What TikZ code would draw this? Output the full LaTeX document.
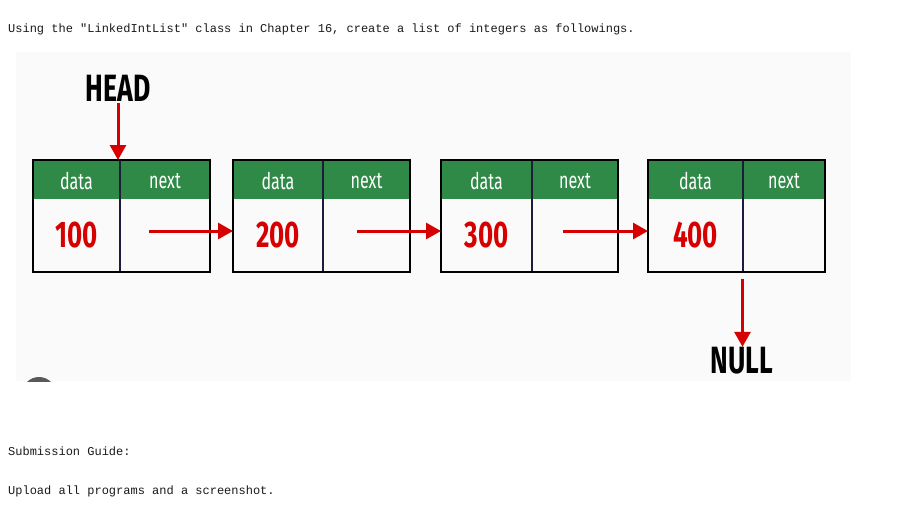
\documentclass[tikz,border=0pt]{standalone}
\usepackage{fontspec}
\setmonofont{Liberation Mono}
\newfontfamily\condfont[FakeStretch=0.7]{Fira Sans}
\usetikzlibrary{arrows.meta}
\definecolor{hdrgreen}{HTML}{2F8A47}
\definecolor{arrred}{HTML}{D60000}
\definecolor{panelgray}{HTML}{FAFAFA}
\definecolor{divnavy}{HTML}{1C1C3C}
\definecolor{txtgray}{HTML}{1A1A1A}
\begin{document}
\begin{tikzpicture}[x=1pt,y=-1pt,
  cell/.style={draw=none,minimum height=112pt,inner sep=0pt,outer sep=0pt},
  hdr/.style={font=\condfont\fontsize{23}{23}\selectfont,text=white,inner sep=0pt},
  val/.style={font=\condfont\bfseries\fontsize{37}{37}\selectfont,text=arrred,inner sep=0pt},
  lbl/.style={font=\condfont\bfseries\fontsize{38}{38}\selectfont,text=black,inner sep=0pt},
  ptr/.style={draw=arrred,line width=3pt,-{Triangle[length=15pt,width=16pt]}},
  mono/.style={font=\ttfamily\fontsize{12}{12}\selectfont,text=txtgray,inner sep=0pt,anchor=base west}]
\useasboundingbox (0,0) rectangle (918,512);
\fill[white] (0,0) rectangle (918,512);
% panel
\fill[panelgray] (16,52) rectangle (851,381);
\begin{scope}
  \clip (16,52) rectangle (851,381);
  \fill[black!65] (39,394) circle (17);
\end{scope}
% texts
\node[mono] (q) at (8,32) {Using the "LinkedIntList" class in Chapter 16, create a list of integers as followings.};
\node[mono] (sg) at (8,455) {Submission Guide:};
\node[mono] (up) at (8,494) {Upload all programs and a screenshot.};
% boxes
\foreach \i/\L/\D/\R/\v in {1/33/120/210/100,2/233/323/410/200,3/441/532/618/300,4/648/743/825/400}{
  \fill[hdrgreen] (\L,160) rectangle (\R,199);
  \draw[divnavy,line width=1.5pt] (\D,160) -- (\D,272);
  \draw[black,line width=2pt] (\L,160) rectangle (\R,272);
  \node[cell,minimum width={\D-\L}] (d\i) at ({(\L+\D)/2},216) {};
  \node[cell,minimum width={\R-\D}] (n\i) at ({(\D+\R)/2},216) {};
  \node[hdr] (dh\i) at ({(\L+\D)/2},181) {data};
  \node[hdr] (nh\i) at ({(\D+\R)/2},181) {next};
  \node[val] (v\i) at ({(\L+\D)/2},235) {\v};
}
% head
\node[lbl] (head) at (118,88.5) {HEAD};
\coordinate (hs) at (118,103);
\draw[ptr] (hs) -- (hs |- d1.north);
% links
\coordinate (s1) at (149,231);
\coordinate (s2) at (357,231);
\coordinate (s3) at (563,231);
\draw[ptr] (s1) -- (d2.west |- s1);
\draw[ptr] (s2) -- (d3.west |- s2);
\draw[ptr] (s3) -- (d4.west |- s3);
% null
\node[lbl] (null) at (742,360.5) {NULL};
\coordinate (ns) at (742.5,279);
\draw[ptr] (ns) -- (ns |- null.north);
\end{tikzpicture}
\end{document}
